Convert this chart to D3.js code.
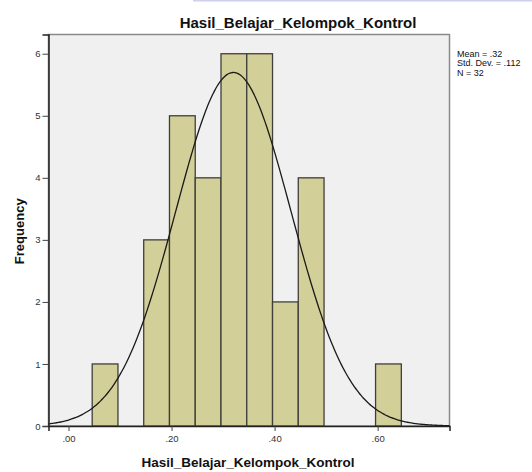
<!DOCTYPE html>
<html>
<head>
<meta charset="utf-8">
<script src="https://cdn.jsdelivr.net/npm/d3@7"></script>
<style>
  body { margin: 0; background: #fff; }
  svg { display: block; font-family: "Liberation Sans", Arial, sans-serif; }
</style>
</head>
<body>
<svg id="chart"></svg>
<script>
const w = 532;
const h = 472;

// histogram bins (lower edge) and their counts
const binStarts = [0.046, 0.096, 0.146, 0.196, 0.246, 0.296, 0.346, 0.396, 0.446, 0.496, 0.546, 0.596];
const counts = [1, 0, 3, 5, 4, 6, 6, 2, 4, 0, 0, 1];
const binWidth = 0.05;

const xTicks = [0, 0.2, 0.4, 0.6];
const yTicks = [0, 1, 2, 3, 4, 5, 6];

const mean = 0.32;
const sd = 0.112;
const n = 32;
const statLines = ["Mean = .32", "Std. Dev. = .112", "N = 32"];

const title = "Hasil_Belajar_Kelompok_Kontrol";
const xLabel = "Hasil_Belajar_Kelompok_Kontrol";
const yLabel = "Frequency";

const plot = {left: 48.5, right: 449.5, top: 34.5, bottom: 426};

const svg = d3.select("#chart")
  .attr("width", w)
  .attr("height", h)
  .attr("viewBox", [0, 0, w, h]);

// faint band at the very top of the screenshot
svg.append("rect")
  .attr("x", 193).attr("y", 0)
  .attr("width", w - 193).attr("height", 1.5)
  .attr("fill", "#cfcff2");

const x = d3.scaleLinear()
  .domain([-0.0388, 0.7395])
  .range([plot.left, plot.right]);

const y = d3.scaleLinear()
  .domain([0, 6.31])
  .range([plot.bottom, plot.top]);

// plot background
svg.append("rect")
  .attr("x", plot.left)
  .attr("y", plot.top)
  .attr("width", plot.right - plot.left)
  .attr("height", plot.bottom - plot.top)
  .attr("fill", "#f0f0f0")
  .attr("stroke", "#8a8a8a")
  .attr("stroke-width", 1.5);

// bars
const bins = binStarts.map((b, i) => ({x0: b, x1: b + binWidth, count: counts[i]}));
svg.append("g")
  .selectAll("rect")
  .data(bins.filter(d => d.count > 0))
  .enter()
  .append("rect")
  .attr("x", d => x(d.x0))
  .attr("y", d => y(d.count))
  .attr("width", d => x(d.x1) - x(d.x0))
  .attr("height", d => y(0) - y(d.count))
  .attr("fill", "#d3cf98")
  .attr("stroke", "#3f3f3a")
  .attr("stroke-width", 1.3);

// normal curve
const normal = v => n * binWidth / (sd * Math.sqrt(2 * Math.PI)) * Math.exp(-0.5 * Math.pow((v - mean) / sd, 2));
const curvePts = d3.range(0, 201).map(i => {
  const v = x.domain()[0] + (x.domain()[1] - x.domain()[0]) * i / 200;
  return [v, normal(v)];
});
svg.append("path")
  .datum(curvePts)
  .attr("fill", "none")
  .attr("stroke", "#1a1a1a")
  .attr("stroke-width", 1.3)
  .attr("d", d3.line().x(d => x(d[0])).y(d => y(d[1])).curve(d3.curveBasis));

// axes
const yAxis = d3.axisLeft(y)
  .tickValues(yTicks)
  .tickSize(6)
  .tickPadding(2)
  .tickFormat(d3.format("d"));
const gy = svg.append("g")
  .attr("transform", `translate(${plot.left},0)`)
  .call(yAxis);
gy.select(".domain").attr("stroke", "#222").attr("stroke-width", 1.5);
gy.selectAll(".tick line").attr("stroke", "#444");
gy.selectAll("text").attr("font-size", 9.5).attr("fill", "#333")
  .attr("font-family", "'Liberation Sans', Arial, sans-serif");

const xAxis = d3.axisBottom(x)
  .tickValues(xTicks)
  .tickSize(5)
  .tickPadding(4)
  .tickFormat(d => d3.format(".2f")(d).replace(/^0/, ""));
const gx = svg.append("g")
  .attr("transform", `translate(0,${plot.bottom})`)
  .call(xAxis);
gx.select(".domain").attr("stroke", "#222").attr("stroke-width", 1.5);
gx.selectAll(".tick line").attr("stroke", "#444");
gx.selectAll("text").attr("font-size", 9.5).attr("fill", "#333")
  .attr("font-family", "'Liberation Sans', Arial, sans-serif");

// title and labels
svg.append("text")
  .attr("x", 298)
  .attr("y", 28)
  .attr("text-anchor", "middle")
  .attr("font-size", 15)
  .attr("font-weight", "bold")
  .attr("fill", "#111")
  .text(title);

svg.append("text")
  .attr("x", 248)
  .attr("y", 467)
  .attr("text-anchor", "middle")
  .attr("font-size", 13.5)
  .attr("font-weight", "bold")
  .attr("fill", "#111")
  .text(xLabel);

svg.append("text")
  .attr("transform", `translate(24,${(plot.top + plot.bottom) / 2 + 1}) rotate(-90)`)
  .attr("text-anchor", "middle")
  .attr("font-size", 13)
  .attr("font-weight", "bold")
  .attr("fill", "#111")
  .text(yLabel);

// stats box text
svg.append("g")
  .selectAll("text")
  .data(statLines)
  .enter()
  .append("text")
  .attr("x", 457)
  .attr("y", (d, i) => 57 + i * 9.4)
  .attr("font-size", 9)
  .attr("fill", "#111")
  .text(d => d);
</script>
</body>
</html>
